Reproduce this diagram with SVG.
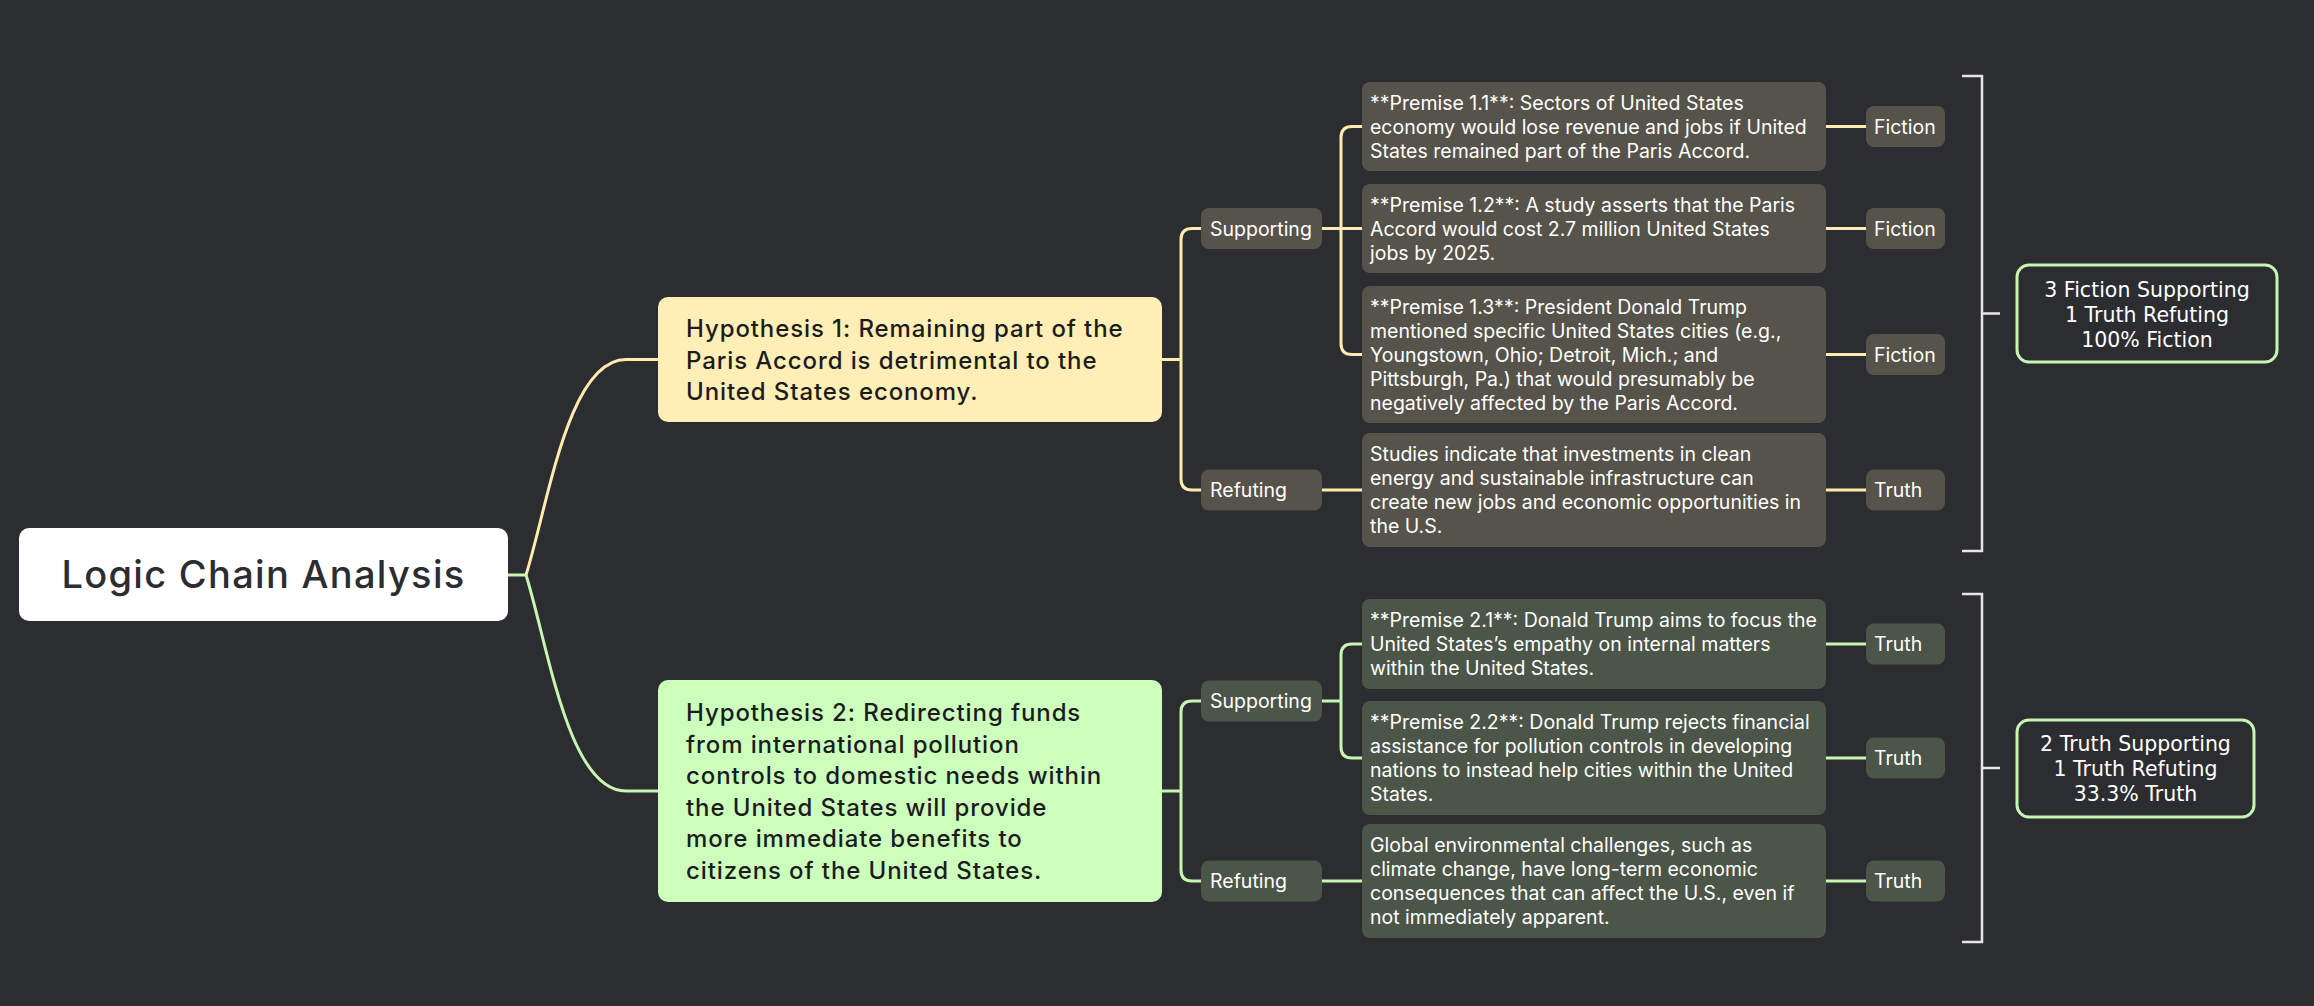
<svg xmlns="http://www.w3.org/2000/svg" width="2314" height="1006" viewBox="0 0 2314 1006">
<style>
.bg{fill:#2C2D31}
.t{font-family:Inter,"Noto Sans","Liberation Sans",sans-serif}
.root{fill:#FFFFFF}
.rootT{font-size:38px;font-weight:500;fill:#2C2D31;letter-spacing:1.3px}
.hyp1{fill:#FFEFB6}
.hyp2{fill:#CCFFBC}
.hypT{font-size:24px;font-weight:500;fill:#1C1C1C;letter-spacing:0.9px}
.gy{fill:#56534A}
.gg{fill:#4B5548}
.sm{font-size:19.5px;fill:#FFFFFF}
.lb{font-size:19.5px;fill:#FFFFFF}
.cy{fill:none;stroke:#FFEBB0;stroke-width:3}
.cg{fill:none;stroke:#C6F6B1;stroke-width:3}
.br{fill:none;stroke:#E6E6E6;stroke-width:2.5}
.sum{fill:none;stroke:#C6F6B1;stroke-width:3}
.sumT{font-family:"DejaVu Sans",sans-serif;font-size:20.5px;fill:#FFFFFF;text-anchor:middle}
</style>
<rect class="bg" x="0" y="0" width="2314" height="1006"/>

<g id="connectors">
  <path class="cg" d="M508,575 H526" stroke-width="2.5"/>
  <path class="cy" d="M526,575 C548,505 568,359.5 626,359.5 H658" stroke-width="2.5"/>
  <path class="cg" d="M526,575 C548,645 568,791 626,791 H658" stroke-width="2.5"/>

  <path class="cy" d="M1162,359.5 H1181"/>
  <path class="cy" d="M1201,228.5 H1192 Q1181,228.5 1181,239.5 V479 Q1181,490 1192,490 H1201"/>
  <path class="cy" d="M1322,228.5 H1362"/>
  <path class="cy" d="M1362,126.5 H1352 Q1341,126.5 1341,137.5 V343.5 Q1341,354.5 1352,354.5 H1362"/>
  <path class="cy" d="M1322,490 H1362"/>
  <path class="cy" d="M1826,126.5 H1866"/>
  <path class="cy" d="M1826,228.5 H1866"/>
  <path class="cy" d="M1826,354.5 H1866"/>
  <path class="cy" d="M1826,490 H1866"/>

  <path class="cg" d="M1162,791 H1181"/>
  <path class="cg" d="M1201,701 H1192 Q1181,701 1181,712 V870 Q1181,881 1192,881 H1201"/>
  <path class="cg" d="M1322,701 H1341"/>
  <path class="cg" d="M1362,644 H1352 Q1341,644 1341,655 V747 Q1341,758 1352,758 H1362"/>
  <path class="cg" d="M1322,881 H1362"/>
  <path class="cg" d="M1826,644 H1866"/>
  <path class="cg" d="M1826,758 H1866"/>
  <path class="cg" d="M1826,881 H1866"/>

  <path class="br" d="M1962,76 H1982 V551 H1962 M1982,313.5 H2000"/>
  <path class="br" d="M1962,594 H1982 V942 H1962 M1982,768 H2000"/>
</g>

<g id="root">
  <rect class="root" x="19" y="528" width="489" height="93" rx="10"/>
  <text class="t rootT" x="263.5" y="588" text-anchor="middle">Logic Chain Analysis</text>
</g>

<g id="hyp1">
  <rect class="hyp1" x="658" y="297" width="504" height="125" rx="10"/>
  <text class="t hypT" x="686"><tspan x="686" y="337">Hypothesis 1: Remaining part of the</tspan><tspan x="686" y="368.5">Paris Accord is detrimental to the</tspan><tspan x="686" y="400">United States economy.</tspan></text>
</g>

<g id="hyp2">
  <rect class="hyp2" x="658" y="680" width="504" height="222" rx="10"/>
  <text class="t hypT" x="686"><tspan x="686" y="721">Hypothesis 2: Redirecting funds</tspan><tspan x="686" y="752.5">from international pollution</tspan><tspan x="686" y="784">controls to domestic needs within</tspan><tspan x="686" y="815.5">the United States will provide</tspan><tspan x="686" y="847">more immediate benefits to</tspan><tspan x="686" y="878.5">citizens of the United States.</tspan></text>
</g>

<g id="supporting1">
  <rect class="gy" x="1201" y="208" width="121" height="41" rx="8"/>
  <text class="t lb" x="1210" y="235.5">Supporting</text>
</g>
<g id="refuting1">
  <rect class="gy" x="1201" y="469.5" width="121" height="41" rx="8"/>
  <text class="t lb" x="1210" y="497">Refuting</text>
</g>

<g id="premise11">
  <rect class="gy" x="1362" y="82" width="464" height="89" rx="8"/>
  <text class="t sm"><tspan x="1370" y="110">**Premise 1.1**: Sectors of United States</tspan><tspan x="1370" y="134">economy would lose revenue and jobs if United</tspan><tspan x="1370" y="158">States remained part of the Paris Accord.</tspan></text>
</g>
<g id="premise12">
  <rect class="gy" x="1362" y="184" width="464" height="89" rx="8"/>
  <text class="t sm"><tspan x="1370" y="212">**Premise 1.2**: A study asserts that the Paris</tspan><tspan x="1370" y="236">Accord would cost 2.7 million United States</tspan><tspan x="1370" y="260">jobs by 2025.</tspan></text>
</g>
<g id="premise13">
  <rect class="gy" x="1362" y="286" width="464" height="137" rx="8"/>
  <text class="t sm"><tspan x="1370" y="314">**Premise 1.3**: President Donald Trump</tspan><tspan x="1370" y="338">mentioned specific United States cities (e.g.,</tspan><tspan x="1370" y="362">Youngstown, Ohio; Detroit, Mich.; and</tspan><tspan x="1370" y="386">Pittsburgh, Pa.) that would presumably be</tspan><tspan x="1370" y="410">negatively affected by the Paris Accord.</tspan></text>
</g>
<g id="refute1">
  <rect class="gy" x="1362" y="433" width="464" height="114" rx="8"/>
  <text class="t sm"><tspan x="1370" y="461">Studies indicate that investments in clean</tspan><tspan x="1370" y="485">energy and sustainable infrastructure can</tspan><tspan x="1370" y="509">create new jobs and economic opportunities in</tspan><tspan x="1370" y="533">the U.S.</tspan></text>
</g>

<g id="verdict11"><rect class="gy" x="1866" y="106" width="79" height="41" rx="8"/><text class="t lb" x="1874" y="133.5">Fiction</text></g>
<g id="verdict12"><rect class="gy" x="1866" y="208" width="79" height="41" rx="8"/><text class="t lb" x="1874" y="235.5">Fiction</text></g>
<g id="verdict13"><rect class="gy" x="1866" y="334" width="79" height="41" rx="8"/><text class="t lb" x="1874" y="361.5">Fiction</text></g>
<g id="verdict14"><rect class="gy" x="1866" y="469.5" width="79" height="41" rx="8"/><text class="t lb" x="1874" y="497">Truth</text></g>

<g id="supporting2">
  <rect class="gg" x="1201" y="680.5" width="121" height="41" rx="8"/>
  <text class="t lb" x="1210" y="708">Supporting</text>
</g>
<g id="refuting2">
  <rect class="gg" x="1201" y="860.5" width="121" height="41" rx="8"/>
  <text class="t lb" x="1210" y="888">Refuting</text>
</g>

<g id="premise21">
  <rect class="gg" x="1362" y="599" width="464" height="90" rx="8"/>
  <text class="t sm"><tspan x="1370" y="627">**Premise 2.1**: Donald Trump aims to focus the</tspan><tspan x="1370" y="651">United States’s empathy on internal matters</tspan><tspan x="1370" y="675">within the United States.</tspan></text>
</g>
<g id="premise22">
  <rect class="gg" x="1362" y="701" width="464" height="114" rx="8"/>
  <text class="t sm"><tspan x="1370" y="729">**Premise 2.2**: Donald Trump rejects financial</tspan><tspan x="1370" y="753">assistance for pollution controls in developing</tspan><tspan x="1370" y="777">nations to instead help cities within the United</tspan><tspan x="1370" y="801">States.</tspan></text>
</g>
<g id="refute2">
  <rect class="gg" x="1362" y="824" width="464" height="114" rx="8"/>
  <text class="t sm"><tspan x="1370" y="852">Global environmental challenges, such as</tspan><tspan x="1370" y="876">climate change, have long-term economic</tspan><tspan x="1370" y="900">consequences that can affect the U.S., even if</tspan><tspan x="1370" y="924">not immediately apparent.</tspan></text>
</g>

<g id="verdict21"><rect class="gg" x="1866" y="623.5" width="79" height="41" rx="8"/><text class="t lb" x="1874" y="651">Truth</text></g>
<g id="verdict22"><rect class="gg" x="1866" y="737.5" width="79" height="41" rx="8"/><text class="t lb" x="1874" y="765">Truth</text></g>
<g id="verdict23"><rect class="gg" x="1866" y="860.5" width="79" height="41" rx="8"/><text class="t lb" x="1874" y="888">Truth</text></g>

<g id="summary1">
  <rect class="sum" x="2017" y="265" width="260" height="97" rx="12"/>
  <text class="sumT"><tspan x="2147" y="297">3 Fiction Supporting</tspan><tspan x="2147" y="322">1 Truth Refuting</tspan><tspan x="2147" y="347">100% Fiction</tspan></text>
</g>
<g id="summary2">
  <rect class="sum" x="2017" y="720" width="237" height="97" rx="12"/>
  <text class="sumT"><tspan x="2135.5" y="751">2 Truth Supporting</tspan><tspan x="2135.5" y="776">1 Truth Refuting</tspan><tspan x="2135.5" y="801">33.3% Truth</tspan></text>
</g>
</svg>
